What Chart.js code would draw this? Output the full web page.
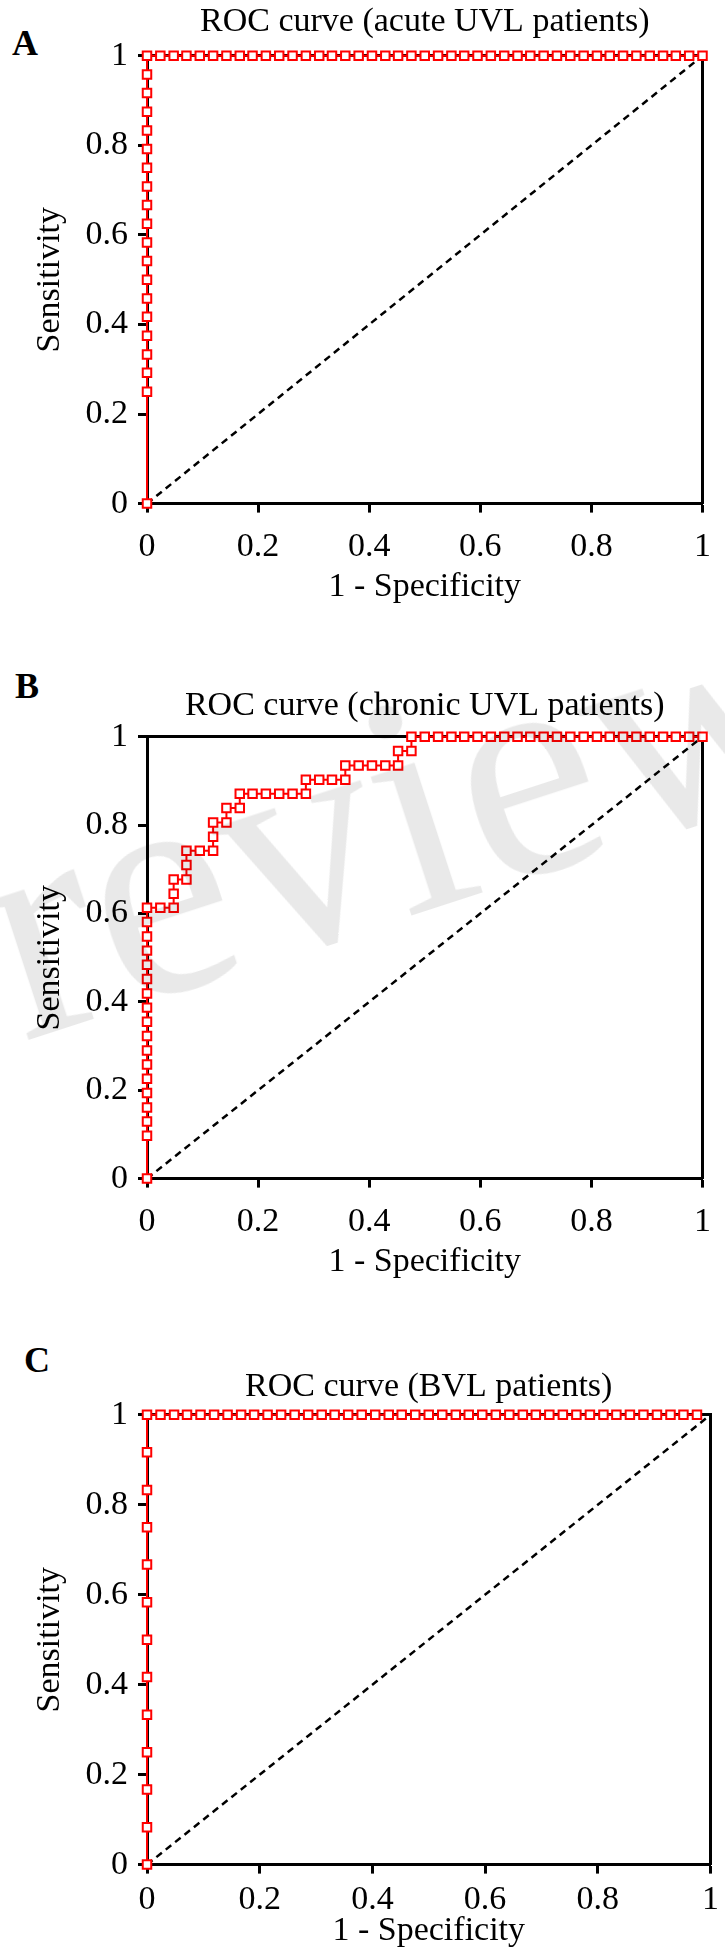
<!DOCTYPE html>
<html>
<head>
<meta charset="utf-8">
<title>ROC curves</title>
<script src="https://cdn.jsdelivr.net/npm/chart.js@4.4.0/dist/chart.umd.min.js"></script>
<style>
  html, body { margin: 0; padding: 0; background: #fff; }
  body { width: 725px; height: 1949px; position: relative; overflow: hidden;
         font-family: "Liberation Serif", "Times New Roman", serif; }
  canvas { position: absolute; left: 0; }
  .tag { position: absolute; font-weight: bold; font-size: 36px; line-height: 1; color: #000; }
  .wm { position: absolute; font-size: 315px; line-height: 1; color: rgba(0, 0, 0, 0.085);
        white-space: nowrap; transform-origin: 0 264px; transform: rotate(-18deg); pointer-events: none; }
</style>
</head>
<body>

<div class="tag" style="left:12px; top:25px;">A</div>
<div class="tag" style="left:15px; top:668px;">B</div>
<div class="tag" style="left:24px; top:1342px;">C</div>

<canvas id="roc-a"></canvas>
<canvas id="roc-b"></canvas>
<canvas id="roc-c"></canvas>

<div class="wm" style="left:-144px; top:832px;">Preview</div>

<script>
// axis tick labels (same on both axes)
const tickLabels = ['0', '0.2', '0.4', '0.6', '0.8', '1'];

// chance line
const chanceX = [0, 1];
const chanceY = [0, 1];

// A - acute UVL patients
const acuteFpr = [
  0, 0, 0, 0, 0, 0, 0, 0, 0, 0, 0, 0, 0, 0, 0, 0, 0, 0, 0, 0,
  0.024, 0.048, 0.071, 0.095, 0.119, 0.143, 0.167, 0.190, 0.214, 0.238, 0.262, 0.286, 0.310, 0.333,
  0.357, 0.381, 0.405, 0.429, 0.452, 0.476, 0.500, 0.524, 0.548, 0.571, 0.595, 0.619, 0.643, 0.667,
  0.690, 0.714, 0.738, 0.762, 0.786, 0.810, 0.833, 0.857, 0.881, 0.905, 0.929, 0.952, 0.976, 1
];
const acuteTpr = [
  0, 0.250, 0.292, 0.333, 0.375, 0.417, 0.458, 0.500, 0.542, 0.583, 0.625, 0.667, 0.708, 0.750,
  0.792, 0.833, 0.875, 0.917, 0.958, 1,
  1, 1, 1, 1, 1, 1, 1, 1, 1, 1, 1, 1, 1, 1, 1, 1, 1, 1, 1, 1, 1,
  1, 1, 1, 1, 1, 1, 1, 1, 1, 1, 1, 1, 1, 1, 1, 1, 1, 1, 1, 1, 1
];

// B - chronic UVL patients
const chronicFpr = [
  0, 0, 0, 0, 0, 0, 0, 0, 0, 0, 0, 0, 0, 0, 0, 0, 0, 0,
  0.024, 0.048, 0.048, 0.048, 0.071, 0.071, 0.071, 0.095, 0.119, 0.119, 0.119, 0.143, 0.143, 0.167,
  0.167, 0.190, 0.214, 0.238, 0.262, 0.286, 0.286, 0.310, 0.333, 0.357, 0.357, 0.381, 0.405, 0.429,
  0.452, 0.452, 0.476, 0.476,
  0.500, 0.524, 0.548, 0.571, 0.595, 0.619, 0.643, 0.667, 0.690, 0.714, 0.738, 0.762, 0.786, 0.810,
  0.833, 0.857, 0.881, 0.905, 0.929, 0.952, 0.976, 1
];
const chronicTpr = [
  0, 0.097, 0.129, 0.161, 0.194, 0.226, 0.258, 0.290, 0.323, 0.355, 0.387, 0.419, 0.452, 0.484,
  0.516, 0.548, 0.581, 0.613,
  0.613, 0.613, 0.645, 0.677, 0.677, 0.710, 0.742, 0.742, 0.742, 0.774, 0.806, 0.806, 0.839, 0.839,
  0.871, 0.871, 0.871, 0.871, 0.871, 0.871, 0.903, 0.903, 0.903, 0.903, 0.935, 0.935, 0.935, 0.935,
  0.935, 0.968, 0.968, 1,
  1, 1, 1, 1, 1, 1, 1, 1, 1, 1, 1, 1, 1, 1, 1, 1, 1, 1, 1, 1, 1, 1
];

// C - BVL patients
const bvlFpr = [
  0, 0, 0, 0, 0, 0, 0, 0, 0, 0, 0, 0, 0,
  0.024, 0.048, 0.071, 0.095, 0.119, 0.143, 0.167, 0.190, 0.214, 0.238, 0.262, 0.286, 0.310, 0.333,
  0.357, 0.381, 0.405, 0.429, 0.452, 0.476, 0.500, 0.524, 0.548, 0.571, 0.595, 0.619, 0.643, 0.667,
  0.690, 0.714, 0.738, 0.762, 0.786, 0.810, 0.833, 0.857, 0.881, 0.905, 0.929, 0.952, 0.976, 1
];
const bvlTpr = [
  0, 0.083, 0.167, 0.250, 0.333, 0.417, 0.500, 0.583, 0.667, 0.750, 0.833, 0.917, 1,
  1, 1, 1, 1, 1, 1, 1, 1, 1, 1, 1, 1, 1, 1, 1, 1, 1, 1, 1, 1, 1,
  1, 1, 1, 1, 1, 1, 1, 1, 1, 1, 1, 1, 1, 1, 1, 1, 1, 1, 1, 1
];

const FONT = '"Liberation Serif", "Times New Roman", serif';
const textFont = { family: FONT, size: 34, weight: 'normal', lineHeight: 1.2 };

function toPoints(xs, ys) {
  return xs.map((x, i) => ({ x: x, y: ys[i] }));
}

// one panel: canvas placed at `top`, plot box from 147 to (725 - padRight)
function rocPanel(id, top, title, fpr, tpr, g) {
  const xAxisH = g.xTitleGap + 20.4;
  const plotTop = 2 + 40.8 + g.titleGap;
  const cv = document.getElementById(id);
  cv.width = 725;
  cv.height = plotTop + g.plotH + xAxisH + 10;
  cv.style.top = top + 'px';

  const axisBase = {
    type: 'linear', min: 0, max: 1,
    ticks: {
      stepSize: 0.2, autoSkip: false, maxRotation: 0, color: '#000', font: textFont,
      callback: (v, i) => tickLabels[i]
    },
    grid: { display: true, drawOnChartArea: false, drawTicks: true,
            tickLength: 9, tickWidth: 3, tickColor: '#000' },
    border: { display: true, color: '#000', width: 3 }
  };

  return new Chart(cv.getContext('2d'), {
    type: 'scatter',
    data: {
      datasets: [
        {
          label: 'ROC',
          data: toPoints(fpr, tpr),
          showLine: true,
          borderColor: '#ff0000',
          borderWidth: 2,
          tension: 0,
          pointStyle: 'rect',
          pointRadius: 6,
          pointBorderWidth: 2,
          pointBorderColor: '#ff0000',
          pointBackgroundColor: '#ffffff',
          clip: false,
          order: 1
        },
        {
          label: 'Chance',
          data: toPoints(chanceX, chanceY),
          showLine: true,
          borderColor: '#000',
          borderWidth: 2.5,
          borderDash: [7, 5],
          pointRadius: 0,
          clip: false,
          order: 2
        }
      ]
    },
    options: {
      responsive: false,
      animation: false,
      events: [],
      layout: { padding: { top: 0, left: 0, right: g.padRight, bottom: 10 } },
      plugins: {
        legend: { display: false },
        tooltip: { enabled: false },
        title: {
          display: true, text: title, color: '#000', font: textFont, fullSize: false,
          padding: { top: 2, bottom: g.titleGap }
        }
      },
      scales: {
        x: Object.assign({}, axisBase, {
          axis: 'x', position: 'bottom',
          ticks: Object.assign({}, axisBase.ticks, { padding: g.xTickPad }),
          title: { display: true, text: '1 - Specificity', color: '#000', font: textFont,
                   padding: { top: 0, bottom: 0 } },
          afterFit: s => { s.height = xAxisH; }
        }),
        y: Object.assign({}, axisBase, {
          axis: 'y', position: 'left',
          ticks: Object.assign({}, axisBase.ticks, { padding: 10 }),
          title: { display: true, text: 'Sensitivity', color: '#000', font: textFont,
                   padding: { top: 30, bottom: 0 } },
          afterFit: s => { s.width = 147; }
        }),
        xTop: {
          type: 'linear', axis: 'x', position: 'top', min: 0, max: 1,
          ticks: { display: false }, grid: { display: false },
          border: { display: true, color: '#000', width: 3 },
          afterFit: s => { s.height = 0; }
        },
        yRight: {
          type: 'linear', axis: 'y', position: 'right', min: 0, max: 1,
          ticks: { display: false }, grid: { display: false },
          border: { display: true, color: '#000', width: 3 },
          afterFit: s => { s.width = 0; }
        }
      }
    }
  });
}

rocPanel('roc-a', 0, 'ROC curve (acute UVL patients)', acuteFpr, acuteTpr,
  { titleGap: 13, plotH: 448, padRight: 11, xTickPad: 14, xTitleGap: 83 });
rocPanel('roc-b', 684, 'ROC curve (chronic UVL patients)', chronicFpr, chronicTpr,
  { titleGap: 10, plotH: 442, padRight: 5, xTickPad: 14, xTitleGap: 83 });
rocPanel('roc-c', 1365, 'ROC curve (BVL patients)', bvlFpr, bvlTpr,
  { titleGap: 7, plotH: 450, padRight: 10, xTickPad: 6, xTitleGap: 66 });
</script>
</body>
</html>
